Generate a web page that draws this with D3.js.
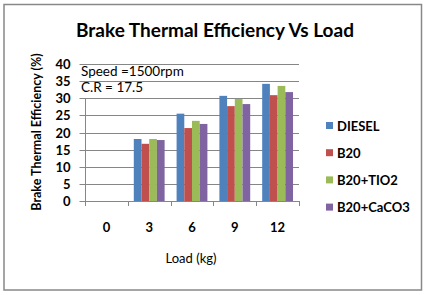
<!DOCTYPE html>
<html><head><meta charset="utf-8">
<script src="https://cdn.jsdelivr.net/npm/d3@7"></script>
<style>
html,body{margin:0;padding:0;background:#fff;}
svg{display:block;}
text{font-family:Lato,"Open Sans",sans-serif;fill:#000;}
</style></head>
<body>
<svg id="chart" width="424" height="295"></svg>
<script>
const categories = ["0", "3", "6", "9", "12"];
const seriesNames = ["DIESEL", "B20", "B20+TIO2", "B20+CaCO3"];
const diesel = [0, 18.1, 25.5, 30.7, 34.2];
const b20 = [0, 16.7, 21.3, 27.7, 30.9];
const b20Tio2 = [0, 18.1, 23.4, 29.8, 33.6];
const b20Caco3 = [0, 17.8, 22.5, 28.3, 31.8];
const yTicks = [0, 5, 10, 15, 20, 25, 30, 35, 40];
const colors = ["#4F81BD", "#C0504D", "#9BBB59", "#8064A2"];
const seriesValues = [diesel, b20, b20Tio2, b20Caco3];

const svg = d3.select("#chart");
const W = 424, H = 295;
const margin = {left: 85, right: 125, top: 64, bottom: 94};
const plotR = W - margin.right, plotB = H - margin.bottom;

// outer border
svg.append("rect").attr("x", 4).attr("y", 4.5).attr("width", 417.5).attr("height", 285.5)
  .attr("fill", "#fff").attr("stroke", "#888").attr("stroke-width", 1.5);

const x = d3.scaleBand().domain(categories).range([margin.left, plotR]).paddingInner(0).paddingOuter(0);
const x1 = d3.scaleBand().domain(seriesNames).range([x.bandwidth() * 0.14, x.bandwidth() * 0.86]);
const y = d3.scaleLinear().domain([0, 40]).range([plotB, margin.top]);

// gridlines
svg.append("g").selectAll("line").data(yTicks.filter(d => d > 0)).join("line")
  .attr("x1", margin.left).attr("x2", plotR)
  .attr("y1", d => Math.round(y(d)) + 0.5).attr("y2", d => Math.round(y(d)) + 0.5)
  .attr("stroke", "#868686").attr("stroke-width", 1);

// bars
const rows = categories.map((c, i) => ({cat: c, vals: seriesNames.map((s, j) => ({s, j, v: seriesValues[j][i]}))}));
svg.append("g").selectAll("g").data(rows).join("g")
  .attr("transform", d => `translate(${x(d.cat)},0)`)
  .selectAll("rect").data(d => d.vals).join("rect")
  .attr("x", d => x1(d.s)).attr("width", x1.bandwidth())
  .attr("y", d => y(d.v)).attr("height", d => y(0) - y(d.v))
  .attr("fill", d => colors[d.j]);

// y axis
const yAxis = d3.axisLeft(y).tickValues(yTicks).tickSize(6).tickPadding(9);
const gy = svg.append("g").attr("transform", `translate(${margin.left + 0.5},0.5)`).call(yAxis);
gy.select(".domain").remove();
gy.selectAll(".tick line").attr("stroke", "#868686");
gy.selectAll(".tick text").style("font-size", "13px").style("font-weight", "bold").attr("dy", "0.36em");
gy.selectAll(".tick").attr("transform", d => `translate(0,${Math.round(y(d))})`);
svg.append("line").attr("x1", margin.left + 0.5).attr("x2", margin.left + 0.5)
  .attr("y1", y(0)).attr("y2", y(30)).attr("stroke", "#868686");

// x axis
const xAxis = d3.axisBottom(x).tickSize(0).tickPadding(21);
const gx = svg.append("g").attr("transform", `translate(0,${Math.round(y(0)) + 0.5})`).call(xAxis);
gx.select(".domain").attr("stroke", "#868686").attr("d", `M${margin.left},0H${plotR}`);
gx.selectAll(".tick text").style("font-size", "13px").style("font-weight", "bold");
svg.append("g").selectAll("line").data(categories.concat(["end"])).join("line")
  .attr("x1", (d, i) => Math.round(margin.left + i * x.bandwidth()) + 0.5)
  .attr("x2", (d, i) => Math.round(margin.left + i * x.bandwidth()) + 0.5)
  .attr("y1", Math.round(y(0))).attr("y2", Math.round(y(0)) + 5)
  .attr("stroke", "#868686");

// title
svg.append("text").attr("x", 215).attr("y", 37).attr("text-anchor", "middle")
  .style("font-size", "19px").style("font-weight", "bold").text("Brake Thermal Efficiency Vs Load");

// axis titles
svg.append("text").attr("transform", "translate(41,132) rotate(-90)").attr("text-anchor", "middle")
  .style("font-size", "12.5px").style("font-weight", "bold").text("Brake Thermal Efficiency (%)");
svg.append("text").attr("x", 191).attr("y", 263).attr("text-anchor", "middle")
  .style("font-size", "13px").text("Load (kg)");

// annotations
svg.append("text").attr("x", 81).attr("y", 76).style("font-size", "13.5px").text("Speed =1500rpm");
svg.append("text").attr("x", 81).attr("y", 92).style("font-size", "13.5px").text("C.R = 17.5");

// legend
const lg = svg.append("g").attr("transform", "translate(326,122)");
const li = lg.selectAll("g").data(seriesNames).join("g").attr("transform", (d, i) => `translate(0,${i * 27.2})`);
li.append("rect").attr("width", 7).attr("height", 7).attr("fill", (d, i) => colors[i]);
li.append("text").attr("x", 11).attr("y", 8.5).style("font-size", "13px").style("font-weight", "bold").text(d => d);
</script>
</body></html>
